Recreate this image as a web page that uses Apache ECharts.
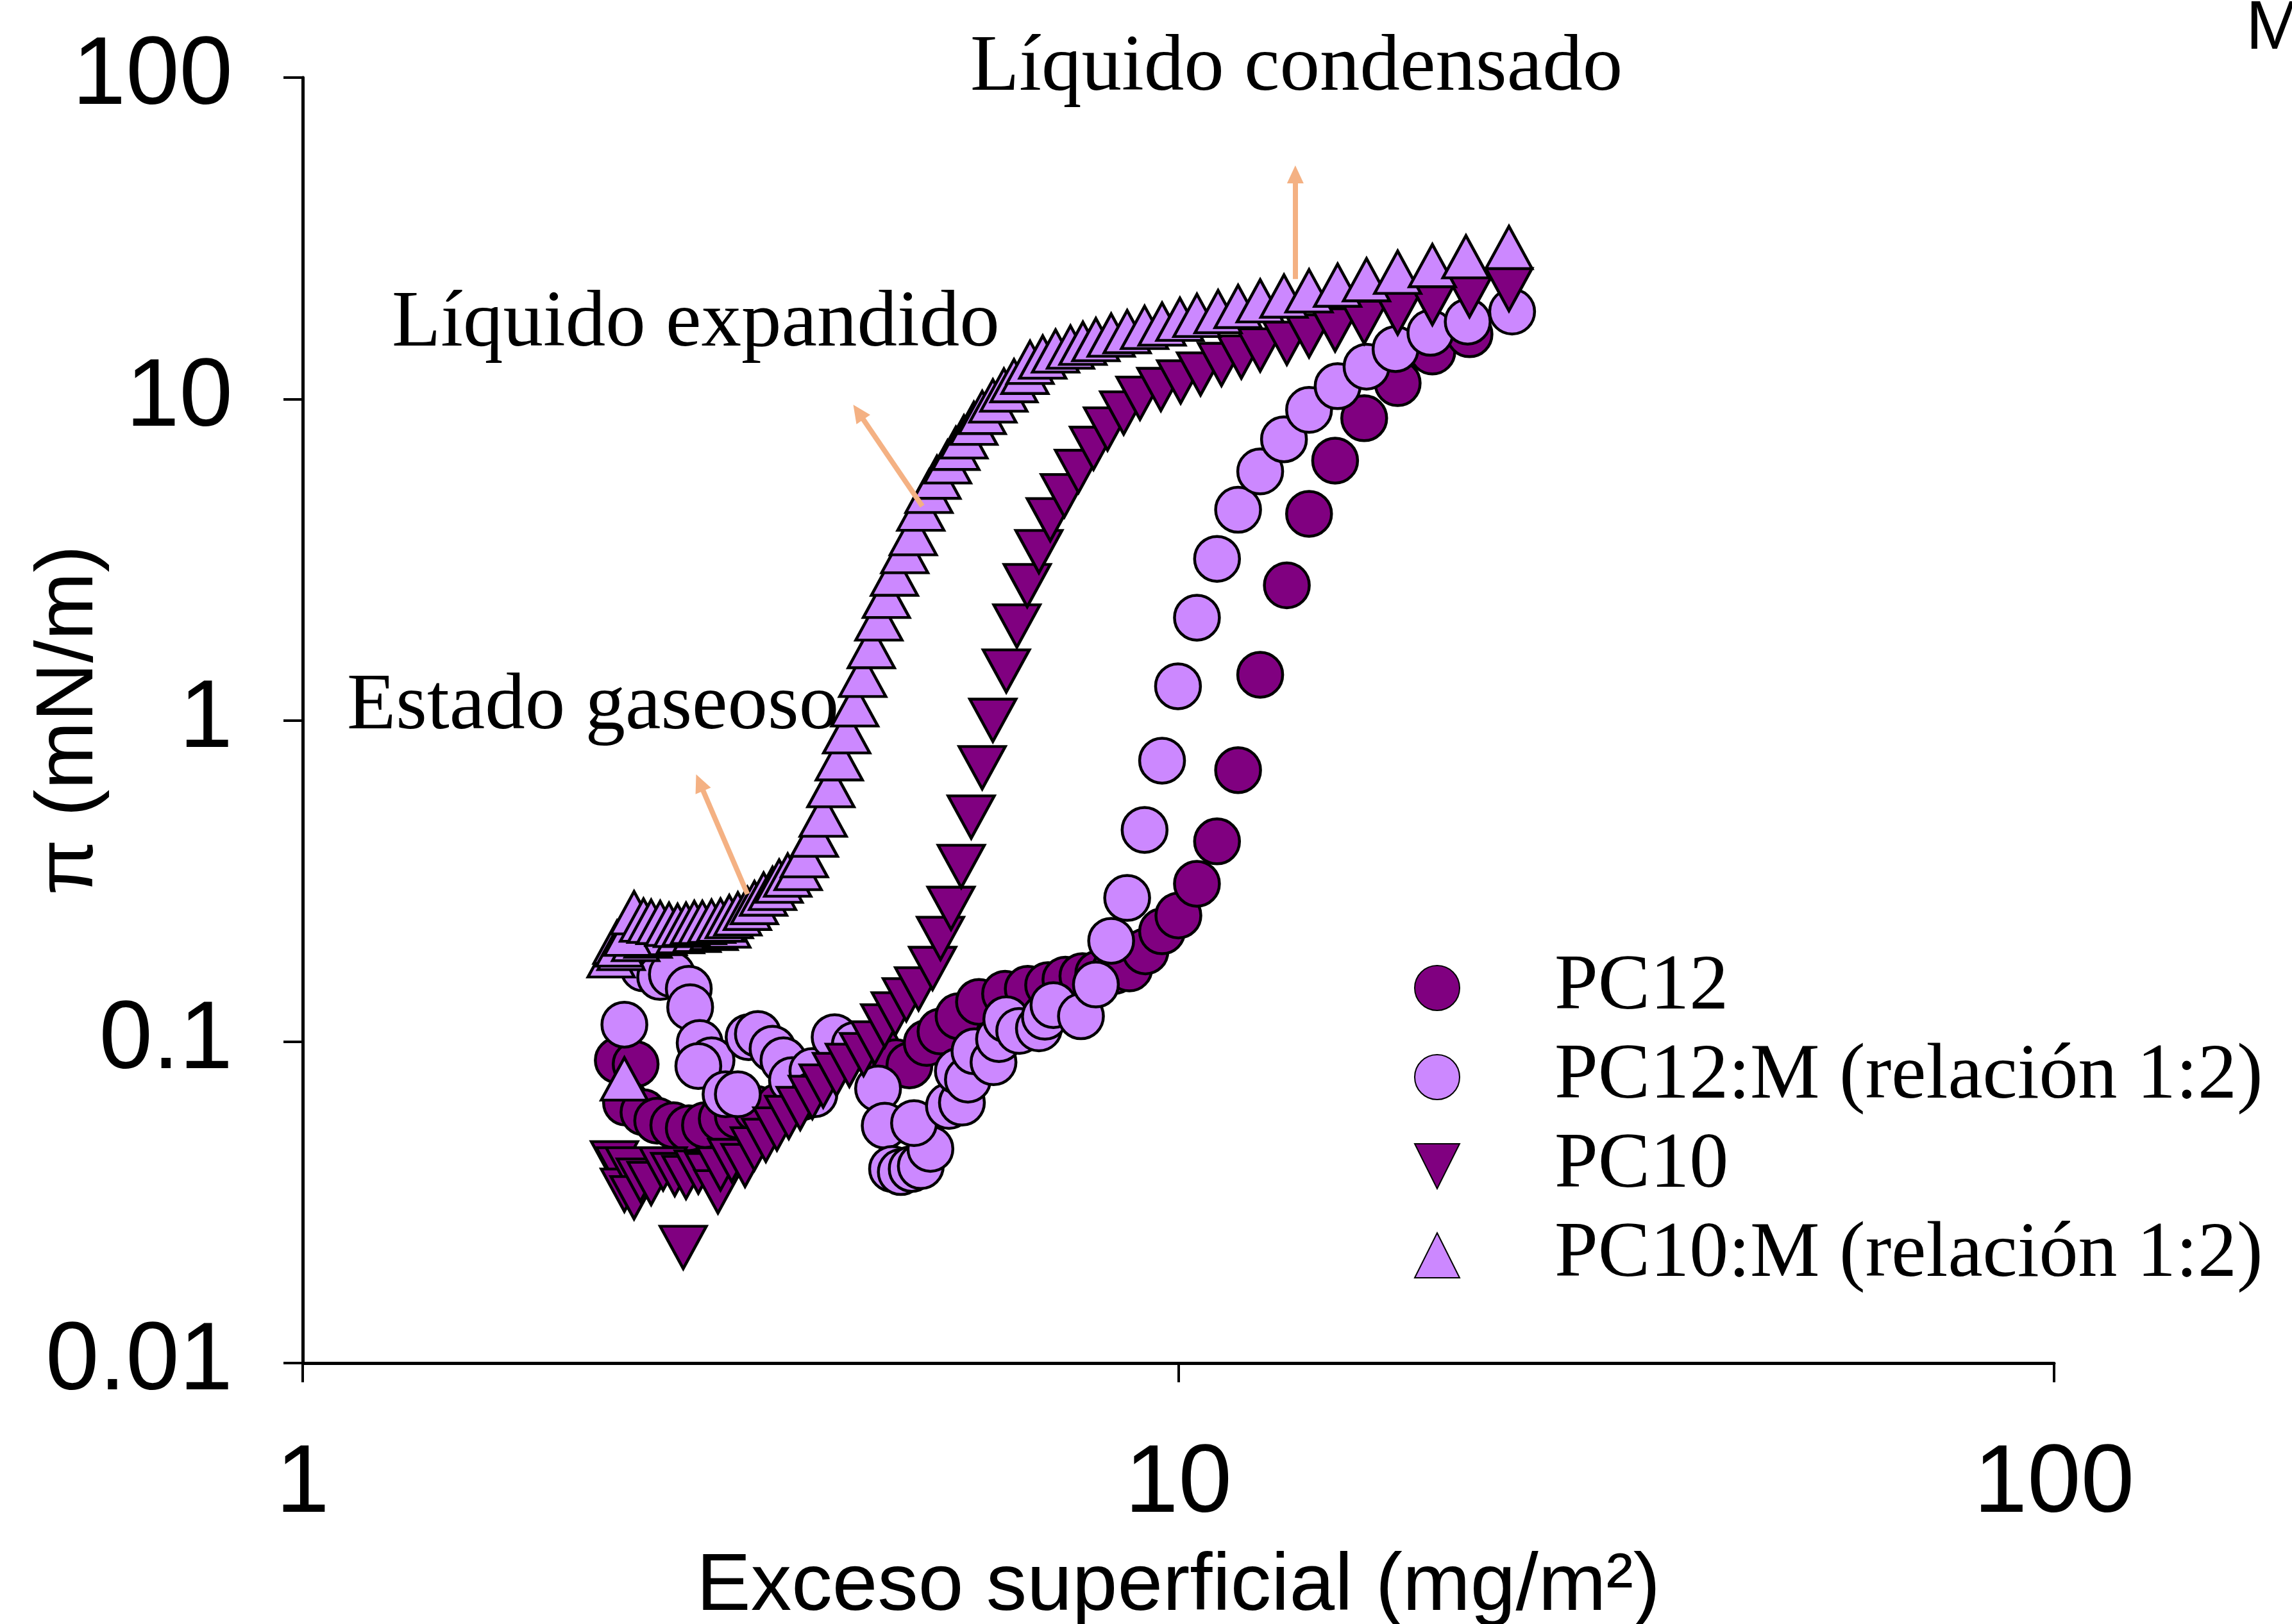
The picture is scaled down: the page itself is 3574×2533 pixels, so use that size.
<!DOCTYPE html>
<html>
<head>
<meta charset="utf-8">
<script src="https://cdn.jsdelivr.net/npm/echarts@6/dist/echarts.min.js"></script>
<style>
html,body{margin:0;padding:0;background:#fff;}
#chart{width:3574px;height:2533px;}
</style>
</head>
<body>
<div id="chart"></div>
<script>
// ---- Data (x: Exceso superficial mg/m2, y: pi mN/m) ----
const seriesNames = ["PC12", "PC12:M (relación 1:2)", "PC10", "PC10:M (relación 1:2)"];
const xTicks = [1, 10, 100];
const yTicks = [0.01, 0.1, 1, 10, 100];

const pc12 = [
  [2.29,0.0875],[2.40,0.0851],[2.34,0.0646],[2.45,0.0603],[2.54,0.0568],[2.65,0.0550],
  [2.76,0.0538],[2.88,0.0550],[3.01,0.0576],[3.14,0.0589],[3.30,0.0617],[3.50,0.0631],
  [3.71,0.0671],[4.53,0.095],[4.76,0.0863],[4.93,0.0844],[5.16,0.0991],[5.35,0.1076],
  [5.61,0.120],[5.92,0.133],[6.34,0.141],[6.73,0.146],[7.10,0.150],[7.43,0.156],
  [7.77,0.160],[8.10,0.163],[8.45,0.166],[8.79,0.169],[9.17,0.191],[9.58,0.2205],
  [10.0,0.247],[10.5,0.31],[11.07,0.42],[11.7,0.70],[12.4,1.386],[13.3,2.63],
  [14.1,4.39],[15.1,6.43],[16.3,8.71],[17.8,11.2],[19.5,14.05],[21.5,15.9]
];

const pc12m = [
  [2.33,0.113],[2.45,0.169],[2.56,0.159],[2.64,0.162],[2.76,0.146],[2.77,0.128],
  [2.84,0.0991],[2.93,0.0875],[2.83,0.084],[3.04,0.0686],[3.14,0.0686],[3.23,0.1033],
  [3.31,0.1057],[3.44,0.0951],[3.54,0.0875],[3.62,0.0759],[3.82,0.081],[3.84,0.0686],
  [4.05,0.1033],[4.27,0.0977],[4.54,0.0715],[4.62,0.0548],[4.71,0.0402],[4.82,0.0393],
  [4.96,0.0402],[5.08,0.041],[5.21,0.0464],[4.99,0.0558],[5.47,0.0631],[5.66,0.0646],
  [5.60,0.081],[5.75,0.0762],[5.85,0.0933],[6.15,0.0863],[6.24,0.1019],[6.36,0.1174],
  [6.58,0.108],[6.93,0.110],[7.04,0.1196],[7.20,0.130],[7.74,0.120],[8.05,0.1506],
  [8.38,0.206],[8.74,0.28],[9.15,0.456],[9.58,0.749],[9.99,1.276],[10.5,2.086],
  [11.07,3.18],[11.7,4.52],[12.4,5.95],[13.2,7.49],[14.1,9.25],[15.2,10.96],
  [16.4,12.6],[17.7,14.3],[19.4,16.06],[21.4,17.4],[24.05,18.7]
];

const pc10 = [
  [2.27,0.0420],[2.30,0.0402],[2.33,0.0345],[2.36,0.0402],[2.39,0.0327],[2.43,0.0371],
  [2.50,0.0362],[2.58,0.0402],[2.66,0.0386],[2.72,0.0229],[2.74,0.0378],[2.83,0.0393],
  [2.91,0.0386],[2.98,0.0341],[3.00,0.0402],[3.09,0.0427],[3.20,0.0412],[3.28,0.0464],
  [3.38,0.0493],[3.48,0.0535],[3.59,0.0581],[3.70,0.0620],[3.82,0.0671],[3.93,0.0728],
  [4.07,0.0791],[4.21,0.0844],[4.37,0.0912],[4.50,0.0991],[4.62,0.112],[4.75,0.122],
  [4.89,0.135],[5.05,0.146],[5.24,0.169],[5.35,0.2096],[5.50,0.260],[5.65,0.351],
  [5.80,0.50],[5.97,0.712],[6.14,1.00],[6.36,1.424],[6.54,1.966],[6.72,2.626],
  [6.93,3.35],[7.14,4.21],[7.41,5.00],[7.69,5.95],[8.00,7.02],[8.30,8.06],
  [8.66,9.04],[9.04,10.05],[9.55,10.7],[10.06,11.3],[10.6,11.96],[11.2,12.8],
  [11.8,13.5],[12.4,14.2],[13.3,14.9],[14.1,15.7],[15.1,16.4],[16.3,17.3],
  [17.8,18.5],[19.5,19.8],[21.5,20.96],[23.85,21.9]
];

const pc10m = [
  [2.33,0.0766],
  [2.25,0.185],[2.31,0.195],[2.285,0.204],[2.30,0.200],[2.40,0.208],[2.48,0.213],
  [2.58,0.217],[2.70,0.220],[2.82,0.222],[2.95,0.225],[3.05,0.229],
  [2.35,0.216],[2.39,0.252],[2.45,0.239],
  [2.50,0.237],[2.56,0.235],[2.62,0.232],[2.68,0.230],[2.74,0.232],[2.80,0.235],
  [2.86,0.235],[2.93,0.237],[3.00,0.239],[3.07,0.245],[3.14,0.250],[3.22,0.260],
  [3.28,0.271],[3.36,0.288],[3.44,0.30],[3.50,0.316],[3.58,0.330],[3.68,0.346],
  [3.74,0.379],[3.84,0.439],[3.93,0.507],[4.01,0.626],[4.10,0.759],[4.18,0.921],
  [4.27,1.117],[4.36,1.38],[4.46,1.696],[4.55,2.068],[4.64,2.43],[4.74,2.85],
  [4.87,3.35],[4.98,3.81],[5.08,4.54],[5.19,5.16],[5.30,5.71],[5.45,6.37],
  [5.57,7.02],[5.69,7.62],[5.84,8.40],[5.97,9.08],[6.14,9.86],[6.32,10.66],
  [6.49,11.4],[6.68,12.1],[6.77,13.0],[7.00,13.5],[7.24,14.1],[7.53,14.5],
  [7.78,14.9],[8.05,15.3],[8.38,15.8],[8.74,16.2],[9.15,16.7],[9.58,17.1],
  [10.04,17.7],[10.5,18.2],[11.1,18.7],[11.7,19.4],[12.4,20.2],[13.2,20.9],
  [14.1,21.7],[15.2,22.6],[16.4,23.5],[17.8,24.8],[19.5,26.0],[21.3,27.7],[23.85,29.6]
];

// annotation arrows (tail -> head) in data coordinates
const arrowCondensado = [[13.6, 23.6], [13.6, 50]];
const arrowExpandido = [[5.10, 4.64], [4.31, 9.1]];
const arrowGaseoso = [[3.22, 0.288], [2.84, 0.64]];

// ---- styles ----
const DARK = '#800080';
const LIGHT = '#CC88FF';
const ARROW = '#F4B183';
const DOWN_TRI = 'path://M0,0L10,0L5,10Z';

function fmt(v) {
  for (const t of yTicks.concat(xTicks)) {
    if (Math.abs(v - t) / t < 1e-6) return String(t);
  }
  return String(Number(v.toPrecision(6)));
}

const chart = echarts.init(document.getElementById('chart'), null, {renderer: 'canvas'});

const common = {
  type: 'scatter',
  emphasis: {disabled: true},
  animation: false
};

chart.setOption({
  animation: false,
  backgroundColor: '#fff',
  grid: {left: 472, top: 121, width: 2731, height: 2005, containLabel: false, outerBoundsMode: 'none'},
  xAxis: {
    type: 'log', logBase: 10, min: 1, max: 100,
    name: 'Exceso superficial (mg/m²)',
    nameLocation: 'middle', nameGap: 286, nameMoveOverlap: false,
    nameTextStyle: {fontFamily: 'Liberation Sans', fontSize: 127, color: '#000'},
    axisLine: {lineStyle: {color: '#000', width: 5}},
    axisTick: {length: 30, lineStyle: {color: '#000', width: 4}},
    minorTick: {show: false},
    splitLine: {show: false},
    axisLabel: {margin: 116, fontFamily: 'Liberation Sans', fontSize: 150, color: '#000', formatter: fmt}
  },
  yAxis: {
    type: 'log', logBase: 10, min: 0.01, max: 100,
    name: 'π (mN/m)',
    nameLocation: 'middle', nameGap: 300, nameRotate: 90, nameMoveOverlap: false,
    nameTextStyle: {fontFamily: 'Liberation Sans', fontSize: 127, color: '#000'},
    axisLine: {show: true, lineStyle: {color: '#000', width: 5}},
    axisTick: {show: true, length: 30, lineStyle: {color: '#000', width: 4}},
    minorTick: {show: false},
    splitLine: {show: false},
    axisLabel: {margin: 109, fontFamily: 'Liberation Sans', fontSize: 150, color: '#000', formatter: fmt}
  },
  legend: {
    orient: 'vertical',
    left: 2200, top: 1475,
    itemWidth: 70, itemHeight: 70, itemGap: 17,
    selectedMode: false,
    data: seriesNames,
    textStyle: {fontFamily: 'Liberation Serif', fontSize: 122, color: '#000', lineHeight: 70, padding: [0, 0, 0, 143]}
  },
  series: [
    Object.assign({}, common, {
      name: seriesNames[0], data: pc12, symbol: 'circle', symbolSize: 70,
      itemStyle: {color: DARK, borderColor: '#000', borderWidth: 4.5, opacity: 1}
    }),
    Object.assign({}, common, {
      name: seriesNames[1], data: pc12m, symbol: 'circle', symbolSize: 70,
      itemStyle: {color: LIGHT, borderColor: '#000', borderWidth: 4.5, opacity: 1}
    }),
    Object.assign({}, common, {
      name: seriesNames[2], data: pc10, symbol: DOWN_TRI, symbolSize: [72, 66],
      itemStyle: {color: DARK, borderColor: '#000', borderWidth: 4.5, opacity: 1}
    }),
    Object.assign({}, common, {
      name: seriesNames[3], data: pc10m, symbol: 'triangle', symbolSize: [72, 66],
      itemStyle: {color: LIGHT, borderColor: '#000', borderWidth: 4.5, opacity: 1},
      markLine: {
        silent: true,
        animation: false,
        symbol: ['none', 'triangle'],
        symbolSize: [26, 28],
        lineStyle: {color: ARROW, width: 8, type: 'solid', opacity: 1},
        itemStyle: {color: ARROW},
        label: {show: false},
        emphasis: {disabled: true},
        data: [arrowCondensado, arrowExpandido, arrowGaseoso].map(a => [
          {coord: a[0], symbol: 'none'}, {coord: a[1]}
        ])
      }
    })
  ],
  graphic: [
    {type: 'text', style: {x: 1513, y: 107, text: 'Líquido condensado', font: '125px "Liberation Serif"', fill: '#000', verticalAlign: 'middle', align: 'left'}},
    {type: 'text', style: {x: 611, y: 506, text: 'Líquido expandido', font: '125px "Liberation Serif"', fill: '#000', verticalAlign: 'middle', align: 'left'}},
    {type: 'text', style: {x: 541, y: 1103, text: 'Estado gaseoso', font: '125px "Liberation Serif"', fill: '#000', verticalAlign: 'middle', align: 'left'}},
    {type: 'text', style: {x: 3502, y: 46, text: 'M', font: '108px "Liberation Sans"', fill: '#000', verticalAlign: 'middle', align: 'left'}}
  ]
});
</script>
</body>
</html>
